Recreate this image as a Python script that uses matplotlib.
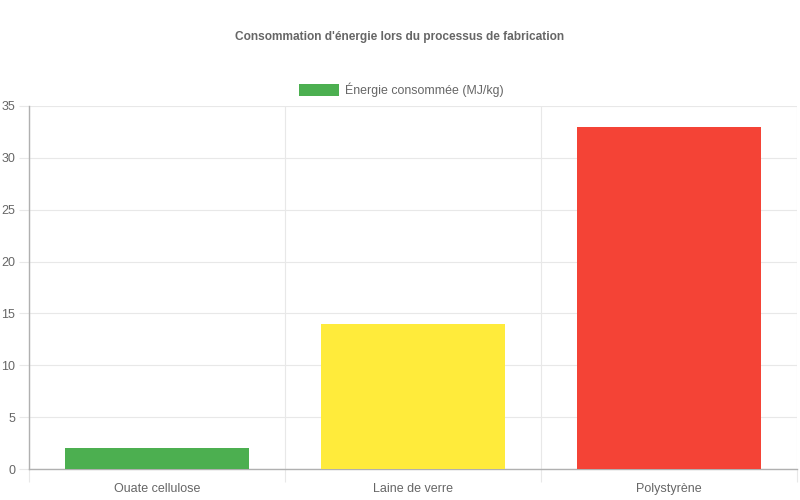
import matplotlib
matplotlib.use("Agg")
import matplotlib.pyplot as plt
from matplotlib.patches import Rectangle
import numpy as np

categories = ["Ouate cellulose", "Laine de verre", "Polystyrène"]
values = [2, 14, 33]
colors = ["#4CAF50", "#FFEB3B", "#F44336"]
series_label = "Énergie consommée (MJ/kg)"
title = "Consommation d'énergie lors du processus de fabrication"
y_ticks = [0, 5, 10, 15, 20, 25, 30, 35]

plt.rcParams['font.family'] = ['Liberation Sans', 'DejaVu Sans']

fig = plt.figure(figsize=(8, 5), dpi=100)
ax = fig.add_axes([29/800, 31/500, 768/800, 363/500])

x = np.arange(len(categories))
ax.bar(x, values, width=0.72, color=colors, zorder=3)

ax.set_xlim(-0.5, len(categories) - 0.5)
ax.set_ylim(0, 35)
ax.set_yticks(y_ticks)
ax.set_xticks(x)
ax.set_xticklabels(categories)
ax.set_xticks(np.arange(-0.5, len(categories)), minor=True)

grid_c = "#e8e8e8"
axis_c = "#b0b0b0"
ax.grid(True, axis='y', which='major', color=grid_c, linewidth=0.8, zorder=0)
ax.grid(True, axis='x', which='minor', color=grid_c, linewidth=0.8, zorder=0)
ax.tick_params(axis='x', which='major', length=0, pad=10, labelsize=9, labelcolor="#666666")
ax.tick_params(axis='x', which='minor', length=9, color=grid_c, width=0.8)
ax.tick_params(axis='y', length=7, color=grid_c, width=0.8, pad=3, labelsize=9, labelcolor="#666666")

for s in ['top', 'right']:
    ax.spines[s].set_visible(False)
ax.spines['left'].set_color(axis_c)
ax.spines['bottom'].set_color(axis_c)
ax.spines['left'].set_linewidth(1)
ax.spines['bottom'].set_linewidth(1)

fig.text(0.5, 1 - 37/500, title, ha='center', va='center', fontsize=8.6,
         fontweight='bold', color="#666666")

# legend
fig.patches.append(Rectangle((299/800, 1 - 96/500), 40/800, 12/500,
                             transform=fig.transFigure, facecolor=colors[0],
                             edgecolor='none'))
fig.text(345/800, 1 - 90/500, series_label, ha='left', va='center', fontsize=8.9,
         color="#666666")

fig.savefig("out.png", dpi=100)
